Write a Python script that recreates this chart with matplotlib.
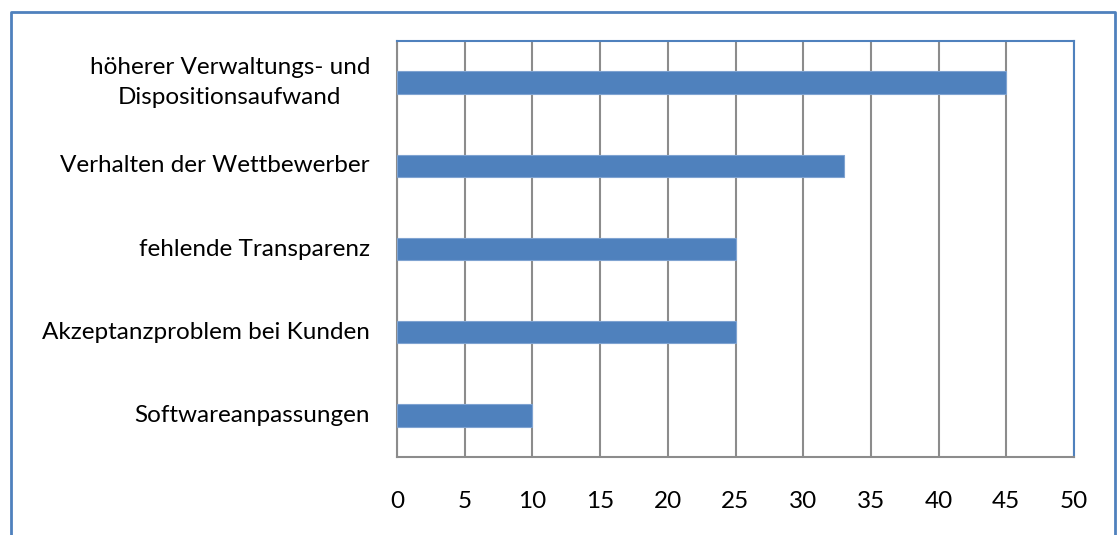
import matplotlib
matplotlib.use("Agg")
import matplotlib.pyplot as plt
from matplotlib.lines import Line2D

categories = ["höherer Verwaltungs- und\nDispositionsaufwand",
              "Verhalten der Wettbewerber",
              "fehlende Transparenz",
              "Akzeptanzproblem bei Kunden",
              "Softwareanpassungen"]
values = [45, 33, 25, 25, 10]
xticks = [0, 5, 10, 15, 20, 25, 30, 35, 40, 45, 50]

plt.rcParams['font.family'] = ['Lato', 'DejaVu Sans']

W, H = 1117, 535
fig = plt.figure(figsize=(W / 100, H / 100), dpi=100)
ax = fig.add_axes([397 / W, 1 - 457 / H, (1074 - 397) / W, (457 - 41) / H])

blue = "#4F81BD"
grid = "#8C8C8C"
fs = 17.5
ypos = list(range(len(categories)))
ax.barh(ypos, values, height=0.27, color=blue, edgecolor="#7FA3D1", linewidth=0.8, zorder=3)
ax.set_ylim(len(categories) - 0.5, -0.5)
ax.set_xlim(0, 50)
ax.set_xticks(xticks)
ax.set_xticklabels([str(t) for t in xticks], fontsize=fs)
ax.set_yticks(ypos)
ax.set_yticklabels(categories, fontsize=fs, multialignment="center", linespacing=1.55)
for lbl in ax.get_yticklabels():
    lbl.set_verticalalignment("center")
ax.tick_params(axis="both", length=0)
ax.tick_params(axis="x", pad=24.5)
ax.tick_params(axis="y", pad=19.5)
ax.xaxis.grid(True, color=grid, linewidth=1.5, zorder=0)
ax.set_axisbelow(True)
ax.spines["left"].set_color(grid)
ax.spines["left"].set_linewidth(1.5)
ax.spines["bottom"].set_color(grid)
ax.spines["bottom"].set_linewidth(1.5)
ax.spines["top"].set_color(blue)
ax.spines["top"].set_linewidth(1.5)
ax.spines["right"].set_color(blue)
ax.spines["right"].set_linewidth(1.5)

# outer border (left, top, right)
x0, x1, yt = 11 / W, 1115 / W, 1 - 12 / H
fig.add_artist(Line2D([x0, x0, x1, x1], [0, yt, yt, 0], transform=fig.transFigure,
                      color=blue, linewidth=2))

fig.savefig("out.png", dpi=100)
